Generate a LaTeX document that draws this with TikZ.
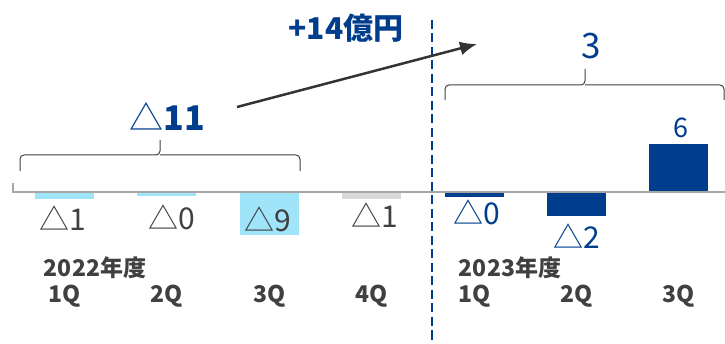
\documentclass[tikz,border=0pt]{standalone}
\usepackage{fontspec}
\setmainfont{Noto Sans CJK JP}
\usetikzlibrary{arrows.meta, positioning}
\definecolor{navy}{RGB}{0,61,140}
\definecolor{lightbar}{RGB}{160,228,250}
\definecolor{graybar}{RGB}{217,217,217}
\definecolor{txtgray}{RGB}{64,64,64}
\definecolor{axisgray}{RGB}{166,166,166}
\definecolor{arrowgray}{RGB}{51,51,51}
\newcommand{\fs}[1]{\fontsize{#1}{#1}\selectfont}

\begin{document}
\begin{tikzpicture}[x=1pt, y=-1pt, >={Latex[length=17pt,width=14pt]},
    vallabel/.style={font=\fs{30}, text=txtgray, inner sep=0pt},
    bluelabel/.style={font=\fs{30}, text=navy, inner sep=0pt},
    qlabel/.style={font=\fs{23}\bfseries, text=txtgray, inner sep=0pt},
    bracket/.style={draw=txtgray, line width=1pt, rounded corners=4pt}]
            \useasboundingbox (0,0) rectangle (725,344);

            % bars
            \fill[lightbar] (35,192) rectangle (94,199);
            \fill[lightbar] (137,192) rectangle (196,196);
            \fill[lightbar] (240,192) rectangle (299,235);
            \fill[graybar] (342,192) rectangle (401,199);
            \fill[navy] (445,192) rectangle (504,197);
            \fill[navy] (547,192) rectangle (606,216);
            \fill[navy] (649,144) rectangle (708,192);

            % axis
            \draw[axisgray, line width=1.5pt] (13,183) -- (13,192) -- (725,192);
            \draw[navy, line width=2.3pt, dash pattern=on 9pt off 4.5pt] (432,20) -- (432,344);

            % values
            \node[vallabel] (v1) at (63,218) {△1};
            \node[vallabel] (v2) at (172,217) {△0};
            \node[vallabel] (v3) at (268,219) {△9};
            \node[vallabel] (v4) at (375,215) {△1};
            \node[bluelabel] (w1) at (477,212) {△0};
            \node[bluelabel] (w2) at (577,236) {△2};
            \node[bluelabel, font=\fs{27}] (w3) at (681,128) {6};

            % brackets
            \draw[bracket] (20,171) -- (20,155) -- (160,155) -- (160,140);
            \draw[bracket] (300,171) -- (300,155) -- (160,155);
            \draw[bracket] (445,100) -- (445,85) -- (585,85) -- (585,69);
            \draw[bracket] (724,100) -- (724,85) -- (585,85);
            \node[bluelabel, font=\fs{34}] (sum22) at (167,116) {△\textbf{11}};
            \node[bluelabel, font=\fs{35}] (sum23) at (591,46) {3};

            % change
            \coordinate (from) at (237,107);
            \coordinate (to) at (477,44);
            \draw[->, arrowgray, line width=2.5pt] (from) -- (to);
            \node[bluelabel, font=\fs{30}\bfseries] (delta) at (346,28) {+14億円};

            % quarters
            \node[qlabel] (fy22) at (95,268) {2022年度};
            \node[qlabel] (fy23) at (510,268) {2023年度};
            \node[qlabel] (q1) at (65,296) {1Q};
            \node[qlabel] (q2) at (167,296) {2Q};
            \node[qlabel] (q3) at (270,296) {3Q};
            \node[qlabel] (q4) at (372,296) {4Q};
            \node[qlabel] (r1) at (475,296) {1Q};
            \node[qlabel] (r2) at (577,296) {2Q};
            \node[qlabel] (r3) at (679,296) {3Q};
        \end{tikzpicture}
\end{document}
